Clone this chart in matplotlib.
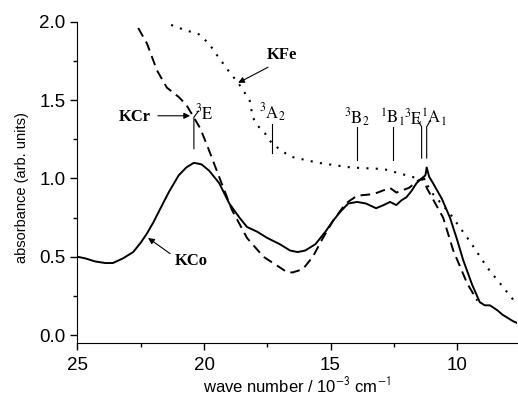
import matplotlib.pyplot as plt
from matplotlib.ticker import MultipleLocator

plt.rcParams['font.family'] = ['Liberation Sans', 'DejaVu Sans']
plt.rcParams['mathtext.fontset'] = 'stix'

# KCo (solid)
kco_x = [25.0, 24.7, 24.3, 23.9, 23.6, 23.2, 22.8, 22.5, 22.25, 22.0, 21.75, 21.4,
         21.0, 20.7, 20.4, 20.1, 19.8, 19.4, 19.0, 18.6, 18.3, 17.9, 17.5, 17.0,
         16.6, 16.3, 16.0, 15.6, 15.2, 14.9, 14.6, 14.3, 13.95, 13.6, 13.2, 12.9,
         12.65, 12.4, 12.2, 12.0, 11.8, 11.6, 11.4, 11.25, 11.2, 11.1, 10.95, 10.6,
         10.28, 10.0, 9.76, 9.4, 9.1, 8.9, 8.7, 8.42, 8.2, 8.0, 7.8, 7.6]
kco_y = [0.50, 0.49, 0.47, 0.46, 0.46, 0.49, 0.53, 0.59, 0.65, 0.72, 0.80, 0.91,
         1.02, 1.07, 1.10, 1.09, 1.05, 0.97, 0.84, 0.75, 0.69, 0.66, 0.62, 0.58,
         0.54, 0.53, 0.54, 0.58, 0.66, 0.73, 0.79, 0.84, 0.85, 0.84, 0.81, 0.83,
         0.85, 0.83, 0.86, 0.88, 0.92, 0.97, 1.00, 1.02, 1.07, 1.01, 0.97, 0.87,
         0.75, 0.61, 0.48, 0.32, 0.21, 0.19, 0.19, 0.16, 0.13, 0.11, 0.09, 0.075]

# KCr (dashed)
kcr_x = [22.6, 22.25, 21.86, 21.47, 21.0, 20.7, 20.44, 20.15, 19.85, 19.45, 18.9,
         18.3, 17.65, 16.7, 16.5, 16.1, 15.7, 15.3, 14.9, 14.4, 13.95, 13.3, 12.65,
         12.4, 11.9, 11.5, 11.3, 11.2, 10.55, 10.15, 9.6, 9.2]
kcr_y = [1.96, 1.86, 1.69, 1.58, 1.52, 1.47, 1.40, 1.32, 1.20, 1.03, 0.80,
         0.62, 0.50, 0.40, 0.40, 0.42, 0.50, 0.62, 0.73, 0.84, 0.89, 0.90, 0.94,
         0.91, 0.94, 0.99, 1.00, 0.94, 0.75, 0.54, 0.33, 0.22]

# KFe (dotted)
kfe_x = [21.3, 20.8, 20.2, 19.8, 19.5, 19.0, 18.65, 18.2, 18.07, 17.9, 17.6, 17.3,
         16.6, 15.5, 14.2, 12.9, 12.0, 11.3, 10.95, 10.3, 9.5, 8.8, 8.0, 7.7]
kfe_y = [1.98, 1.95, 1.92, 1.86, 1.79, 1.68, 1.61, 1.50, 1.39, 1.34, 1.29, 1.22,
         1.14, 1.10, 1.07, 1.06, 1.02, 0.99, 0.90, 0.78, 0.60, 0.43, 0.27, 0.21]

fig = plt.figure(figsize=(5.18, 3.96), dpi=100)
ax = fig.add_axes([0.1496, 0.134, 0.8485, 0.811])

ax.plot(kco_x, kco_y, color='k', lw=1.4)
ax.plot(kcr_x, kcr_y, color='k', lw=1.4, ls=(0, (5, 3)))
ax.plot(kfe_x, kfe_y, color='k', lw=1.5, ls=(0, (1, 3.5)))

ax.set_xlim(25, 7.63)
ax.set_ylim(-0.05, 2.0)
ax.xaxis.set_major_locator(MultipleLocator(5))
ax.xaxis.set_minor_locator(MultipleLocator(2.5))
ax.yaxis.set_major_locator(MultipleLocator(0.5))
ax.yaxis.set_minor_locator(MultipleLocator(0.25))
ax.tick_params(which='major', direction='out', length=5, width=1, labelsize=13.5)
ax.tick_params(axis='x', which='major', pad=5)
ax.tick_params(which='minor', direction='out', length=3, width=1)
ax.spines['top'].set_visible(False)
ax.spines['right'].set_visible(False)

ax.set_xlabel(r'wave number / 10$^{\mathsf{-3}}$ cm$^{\mathsf{-1}}$', fontsize=12, labelpad=1)
ax.set_ylabel('absorbance (arb. units)', fontsize=10.5)
ax.yaxis.set_label_coords(-0.11, 0.483)

# term levels: simple vertical markers
serif = ['Liberation Serif', 'DejaVu Serif']
ax.plot([20.4, 20.4, 20.22], [1.19, 1.39, 1.43], color='k', lw=0.8)
ax.text(20.0, 1.42, r'$^{3}\mathrm{E}$', fontsize=12, ha='center', va='center')
for xpos, lab, y0, y1, yt in [(17.3, r'$^{3}\mathrm{A}_{2}$', 1.16, 1.35, 1.42),
                              (13.95, r'$^{3}\mathrm{B}_{2}$', 1.12, 1.33, 1.39),
                              (12.55, r'$^{1}\mathrm{B}_{1}$', 1.12, 1.33, 1.39)]:
    ax.plot([xpos, xpos], [y0, y1], color='k', lw=0.8)
    ax.text(xpos, yt, lab, fontsize=12, ha='center', va='center')
ax.plot([11.4, 11.4, 11.55], [1.13, 1.33, 1.37], color='k', lw=0.8)
ax.plot([11.2, 11.2, 11.05], [1.13, 1.33, 1.37], color='k', lw=0.8)
ax.text(11.72, 1.39, r'$^{3}\mathrm{E}$', fontsize=12, ha='center', va='center')
ax.text(10.9, 1.39, r'$^{1}\mathrm{A}_{1}$', fontsize=12, ha='center', va='center')

arrow = dict(arrowstyle='-|>', lw=0.8, color='k', mutation_scale=9, shrinkA=0, shrinkB=0)
ax.annotate('', xy=(20.55, 1.40), xytext=(21.82, 1.40), arrowprops=arrow)
ax.text(22.73, 1.39, 'KCr', family=serif, fontweight='bold', fontsize=12, ha='center', va='center')
ax.annotate('', xy=(18.65, 1.61), xytext=(17.47, 1.71), arrowprops=arrow)
ax.text(16.9, 1.79, 'KFe', family=serif, fontweight='bold', fontsize=12, ha='center', va='center')
ax.annotate('', xy=(22.21, 0.62), xytext=(21.34, 0.52), arrowprops=arrow)
ax.text(20.52, 0.475, 'KCo', family=serif, fontweight='bold', fontsize=12, ha='center', va='center')

fig.savefig('out.png', dpi=100)
